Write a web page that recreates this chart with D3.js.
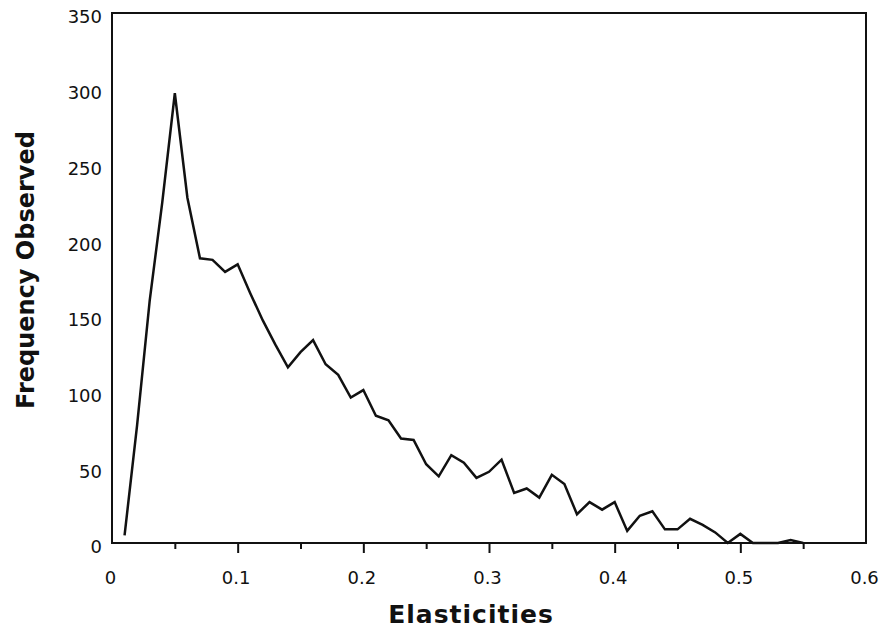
<!DOCTYPE html>
<html>
<head>
<meta charset="utf-8">
<script src="https://cdn.jsdelivr.net/npm/d3@7"></script>
<style>
  body { margin: 0; background: #fff; }
  svg text { font-family: "DejaVu Sans", sans-serif; fill: #111; }
</style>
</head>
<body>
<svg id="chart" width="883" height="633"></svg>
<script>
// elasticity bins (0.01 wide) and how often each was observed
const elasticities = [
  0.01, 0.02, 0.03, 0.04, 0.05, 0.06, 0.07, 0.08, 0.09, 0.10,
  0.11, 0.12, 0.13, 0.14, 0.15, 0.16, 0.17, 0.18, 0.19, 0.20,
  0.21, 0.22, 0.23, 0.24, 0.25, 0.26, 0.27, 0.28, 0.29, 0.30,
  0.31, 0.32, 0.33, 0.34, 0.35, 0.36, 0.37, 0.38, 0.39, 0.40,
  0.41, 0.42, 0.43, 0.44, 0.45, 0.46, 0.47, 0.48, 0.49, 0.50,
  0.51, 0.52, 0.53, 0.54, 0.55
];
const frequency = [
  5, 78, 160, 225, 297, 228, 188, 187, 179, 184,
  165, 147, 131, 116, 126, 134, 118, 111, 96, 101,
  84, 81, 69, 68, 52, 44, 58, 53, 43, 47,
  55, 33, 36, 30, 45, 39, 19, 27, 22, 27,
  8, 18, 21, 9, 9, 16, 12, 7, 0, 6,
  0, 0, 0, 2, 0
];
const xTicks = [0, 0.1, 0.2, 0.3, 0.4, 0.5, 0.6];
const xMinorTicks = [0.05, 0.15, 0.25, 0.35, 0.45, 0.55];
const yTicks = [0, 50, 100, 150, 200, 250, 300, 350];

const svg = d3.select('#chart');
const plot = { left: 112, right: 866, top: 13, bottom: 543 };

const x = d3.scaleLinear().domain([0, 0.6]).range([plot.left, plot.right]);
const y = d3.scaleLinear().domain([0, 350]).range([plot.bottom, plot.top]);

// x axis: labelled ticks every 0.1, short ones in between
const xAxis = svg.append('g')
  .attr('transform', `translate(0,${plot.bottom})`)
  .call(d3.axisBottom(x)
    .tickValues(xTicks)
    .tickSize(10)
    .tickPadding(18)
    .tickFormat(d => d === 0 ? '0' : d3.format('.1f')(d)));
xAxis.select('.domain').remove();
xAxis.selectAll('line').attr('stroke', '#111').attr('stroke-width', 2);
xAxis.selectAll('text').attr('font-size', 18).attr('dx', -2);
xAxis.selectAll('.tick').filter(d => d === 0 || d === 0.6).select('line').remove();

const xMinor = svg.append('g')
  .attr('transform', `translate(0,${plot.bottom})`)
  .call(d3.axisBottom(x).tickValues(xMinorTicks).tickSize(6).tickFormat(''));
xMinor.select('.domain').remove();
xMinor.selectAll('line').attr('stroke', '#111').attr('stroke-width', 2);

// y axis: labels only, no tick marks
const yAxis = svg.append('g')
  .attr('transform', `translate(${plot.left},0)`)
  .call(d3.axisLeft(y).tickValues(yTicks).tickSize(0).tickPadding(10));
yAxis.select('.domain').remove();
yAxis.selectAll('text').attr('font-size', 18).attr('dy', '0.55em');

// frame
svg.append('rect')
  .attr('x', plot.left)
  .attr('y', plot.top)
  .attr('width', plot.right - plot.left)
  .attr('height', plot.bottom - plot.top)
  .attr('fill', 'none')
  .attr('stroke', '#111')
  .attr('stroke-width', 2);

// frequency line
const line = d3.line()
  .x((d, i) => x(elasticities[i]))
  .y(d => y(d));

svg.append('path')
  .datum(frequency)
  .attr('d', line)
  .attr('fill', 'none')
  .attr('stroke', '#111')
  .attr('stroke-width', 2.5)
  .attr('stroke-linejoin', 'miter');

// axis titles
svg.append('text')
  .attr('x', 471)
  .attr('y', 623)
  .attr('text-anchor', 'middle')
  .attr('font-size', 25)
  .attr('letter-spacing', 1)
  .attr('font-weight', 'bold')
  .text('Elasticities');

svg.append('text')
  .attr('transform', 'translate(34,270) rotate(-90)')
  .attr('text-anchor', 'middle')
  .attr('font-size', 24)
  .attr('font-weight', 'bold')
  .text('Frequency Observed');
</script>
</body>
</html>
